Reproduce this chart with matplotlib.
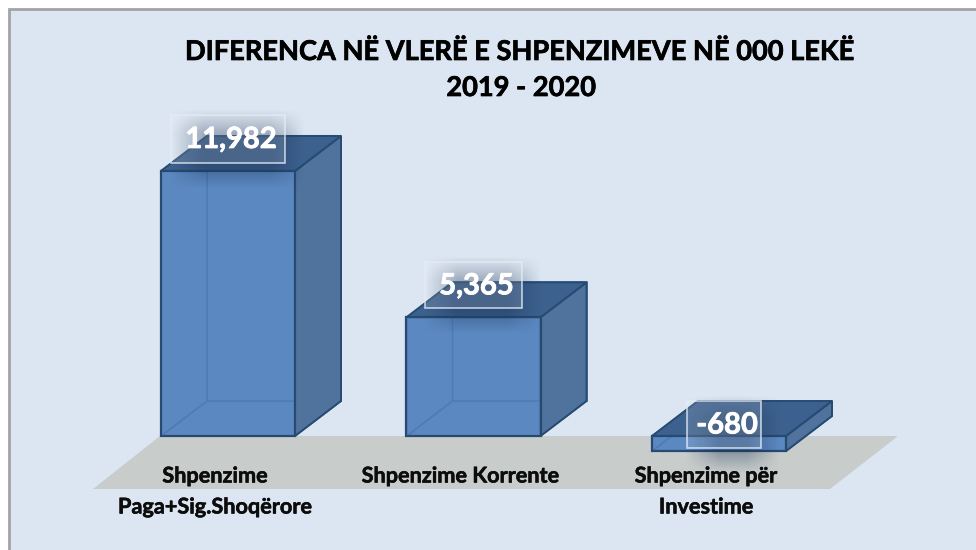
"""Redraw the 2019-2020 spending difference chart as fake 3D bars."""

import matplotlib
matplotlib.use("Agg")
import matplotlib.pyplot as plt
import matplotlib.patheffects as pe
import numpy as np
from matplotlib.patches import Polygon, Rectangle

categories = ["Shpenzime\nPaga+Sig.Shoqërore", "Shpenzime Korrente", "Shpenzime për\nInvestime"]
values = [11982, 5365, -680]
value_labels = ["11,982", "5,365", "-680"]
title_lines = ["DIFERENCA NË VLERË E SHPENZIMEVE NË 000 LEKË", "2019 - 2020"]

BG = "#dce6f2"
FRONT = "#5b88c0"
TOP = "#3c5f8c"
SIDE = "#4f739c"
EDGE = "#264a70"
INNER = "#3f6ea5"
FLOOR = "#c8cdcb"
BORDER = "#a3a3a3"

PX_X = 245.5       # pixels per category step
PX_Y = 0.02212     # pixels per value unit
ZERO_X = 228
ZERO_Y = 436
BAR_W = 134 / PX_X
DX = 46 / PX_X
DY = 35 / PX_Y


def px_w(p):
    return p / PX_X


def px_h(p):
    return p / PX_Y


def soft_box(ax, x0, x1, y0, y1, blur_x, blur_y, alpha, zorder):
    # dark blurred patch used for the label shadows
    xs = np.linspace(0, 1, 80)
    ys = np.linspace(0, 1, 50)
    wx = np.clip(np.minimum(xs, 1 - xs) * (x1 - x0) / blur_x, 0, 1)
    wy = np.clip(np.minimum(ys, 1 - ys) * (y1 - y0) / blur_y, 0, 1)
    rgba = np.zeros((50, 80, 4))
    rgba[..., :3] = (0.08, 0.17, 0.32)
    rgba[..., 3] = np.outer(wy, wx) * alpha
    ax.imshow(rgba, extent=(x0, x1, y0, y1), origin="lower", aspect="auto",
              interpolation="bilinear", zorder=zorder)


def bar3d(ax, x, value):
    left = x - BAR_W / 2
    right = x + BAR_W / 2
    low = min(0, value)
    high = max(0, value)
    z = 3
    # back walls first, seen through the front face
    ax.add_patch(Polygon([(left, low), (left + DX, low + DY), (right + DX, low + DY), (right, low)],
                         fc=FRONT, ec=INNER, lw=1.2, zorder=z))
    ax.add_patch(Rectangle((left + DX, low + DY), BAR_W, high - low, fc=FRONT, ec=INNER, lw=1.2, zorder=z))
    ax.add_patch(Polygon([(left, low), (left + DX, low + DY), (left + DX, high + DY), (left, high)],
                         fc=FRONT, ec=INNER, lw=1.2, zorder=z))
    ax.add_patch(Polygon([(right, low), (right + DX, low + DY), (right + DX, high + DY), (right, high)],
                         fc=SIDE, ec=EDGE, lw=1.4, zorder=z + 1))
    ax.add_patch(Polygon([(left, high), (left + DX, high + DY), (right + DX, high + DY), (right, high)],
                         fc=TOP, ec=EDGE, lw=1.4, alpha=0.95, zorder=z + 1))
    ax.add_patch(Rectangle((left, low), BAR_W, high - low, fc=FRONT, ec="none", alpha=0.55, zorder=z + 2))
    ax.add_patch(Rectangle((left, low), BAR_W, high - low, fc="none", ec=EDGE, lw=1.6, zorder=z + 3))


def main():
    plt.rcParams["font.family"] = ["Lato", "DejaVu Sans"]
    fig = plt.figure(figsize=(9.76, 5.5), dpi=100, facecolor="white")
    ax = fig.add_axes([0, 0, 1, 1])
    ax.set_xlim(-ZERO_X / PX_X, (976 - ZERO_X) / PX_X)
    ax.set_ylim(-(550 - ZERO_Y) / PX_Y, ZERO_Y / PX_Y)
    ax.axis("off")

    # chart area and its border
    ax.add_patch(Rectangle((px_w(8.5 - ZERO_X), px_h(ZERO_Y - 600)), px_w(1100), px_h(591.5),
                           fc=BG, ec=BORDER, lw=2, zorder=0))

    # floor
    ax.add_patch(Polygon([(px_w(160 - ZERO_X), 0), (px_w(898 - ZERO_X), 0),
                          (px_w(830 - ZERO_X), px_h(ZERO_Y - 489)), (px_w(93 - ZERO_X), px_h(ZERO_Y - 489))],
                         fc=FLOOR, ec="none", zorder=1))

    for i, value in enumerate(values):
        bar3d(ax, i, value)

    # value labels, translucent boxes with a soft shadow
    for i, (value, label) in enumerate(zip(values, value_labels)):
        if value > 0:
            cx = i
            cy = value + px_h(32)
            bw = 114 if i == 0 else 97
            bh = 48 if i == 0 else 46
        else:
            cx = i + px_w(5)
            cy = px_h(11.5)
            bw = 74
            bh = 47
        x0, x1 = cx - px_w(bw / 2), cx + px_w(bw / 2)
        y0, y1 = cy - px_h(bh / 2), cy + px_h(bh / 2)
        soft_box(ax, x0 - px_w(2), x1 + px_w(20), y0 - px_h(26), y1 + px_h(6),
                 px_w(34), px_h(24), 0.38, 8)
        ax.add_patch(Rectangle((x0, y0), x1 - x0, y1 - y0, fc="white", alpha=0.14, ec="none", zorder=9))
        ax.add_patch(Rectangle((x0, y0), x1 - x0, y1 - y0, fc="none", ec="#e4ecf5", lw=1.2, alpha=0.8, zorder=10))
        ax.text(cx + px_w(3), cy - px_h(1), label, color="white", fontsize=21, fontweight="bold",
                ha="center", va="center", zorder=11,
                path_effects=[pe.withStroke(linewidth=0.6, foreground="white")])

    # category labels sit left of the bar centres, on the floor
    for i, cat in enumerate(categories):
        for j, line in enumerate(cat.split("\n")):
            ax.text(i - px_w(13), px_h(ZERO_Y - 476 - j * 31), line, color="#0c0c0c", fontsize=15.6,
                    fontweight="bold", ha="center", va="center", zorder=12,
                    path_effects=[pe.withStroke(linewidth=0.4, foreground="#0c0c0c")])

    for line, y in zip(title_lines, (52, 88)):
        ax.text(px_w(521 - ZERO_X), px_h(ZERO_Y - y), line, color="black", fontsize=19.6, fontweight="bold",
                ha="center", va="center", zorder=12,
                path_effects=[pe.withStroke(linewidth=0.5, foreground="black")])

    ax.set_xlim(-ZERO_X / PX_X, (976 - ZERO_X) / PX_X)
    ax.set_ylim(-(550 - ZERO_Y) / PX_Y, ZERO_Y / PX_Y)
    fig.savefig("out.png", dpi=100)


if __name__ == "__main__":
    main()
